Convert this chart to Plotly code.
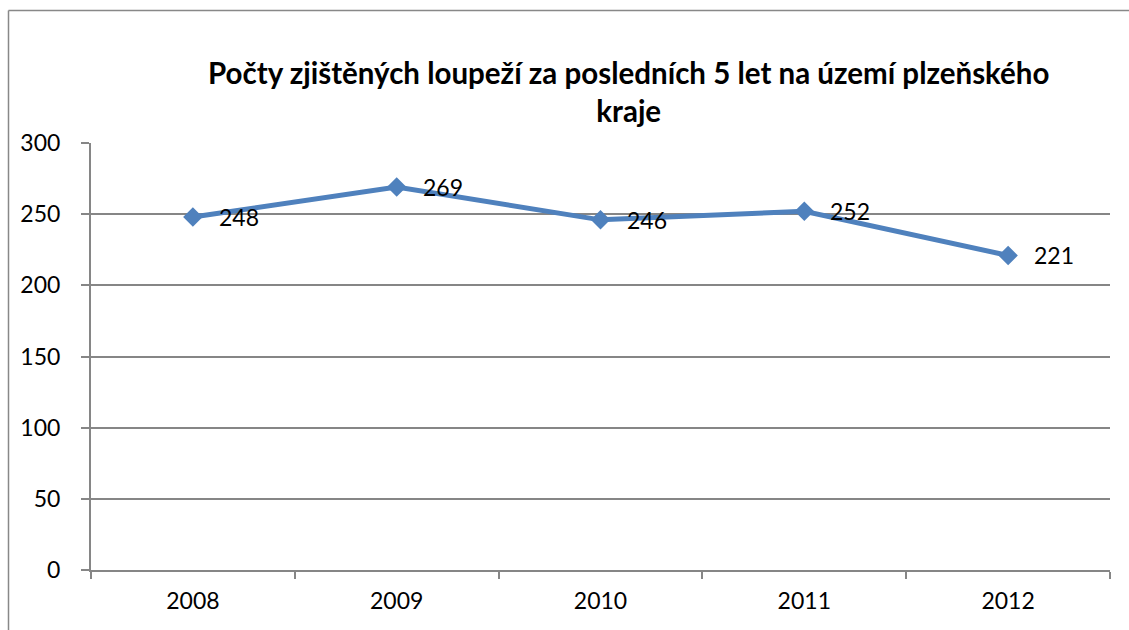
import plotly.graph_objects as go

years = ["2008", "2009", "2010", "2011", "2012"]
counts = [248, 269, 246, 252, 221]
y_ticks = [0, 50, 100, 150, 200, 250, 300]
title_text = "Počty zjištěných loupeží za posledních 5 let na území plzeňského<br>kraje"

W, H = 1129, 630
L, R, T, B = 91, 1110, 143, 570
pw, ph = R - L, B - T

def px(x):
    return (x - L) / pw

def py(y):
    return (B - y) / ph

FONT = "Lato"

fig = go.Figure()
fig.add_trace(go.Scatter(
    x=years, y=counts,
    mode="lines+markers",
    line=dict(color="#4F81BD", width=5),
    marker=dict(symbol="diamond", size=15, color="#4F81BD"),
    cliponaxis=False,
    showlegend=False,
))

annotations = [dict(
    x=i, y=v, xref="x", yref="y",
    text=str(v), showarrow=False,
    xanchor="left", yanchor="middle", xshift=24,
    font=dict(family=FONT, size=23, color="#000000"),
) for i, v in enumerate(counts)]

annotations.append(dict(
    text="<b>" + title_text + "</b>",
    xref="paper", yref="paper",
    x=px(628), y=py(91.5),
    xanchor="center", yanchor="middle",
    showarrow=False,
    font=dict(family=FONT, size=29.5, color="#000000"),
    align="center",
))

fig.update_layout(
    width=W, height=H,
    margin=dict(l=L, r=W - R, t=T, b=H - B),
    paper_bgcolor="white",
    plot_bgcolor="white",
    font=dict(family=FONT, color="#000000"),
    showlegend=False,
    xaxis=dict(
        type="category",
        showgrid=False,
        showline=True, linecolor="#868686", linewidth=2,
        ticks="outside", tickson="boundaries", ticklen=7, tickcolor="#868686", tickwidth=2,
        tickfont=dict(family=FONT, size=23, color="#000000"),
        ticklabelstandoff=9,
        range=[-0.5, 4.5],
    ),
    yaxis=dict(
        range=[0, 300],
        tickvals=y_ticks,
        showgrid=True, gridcolor="#868686", gridwidth=1.5,
        showline=True, linecolor="#868686", linewidth=2,
        ticks="outside", ticklen=8, tickcolor="#868686", tickwidth=2,
        tickfont=dict(family=FONT, size=23, color="#000000"),
        ticklabelstandoff=16,
        zeroline=False,
    ),
    annotations=annotations,
    shapes=[
        dict(type="line", xref="paper", yref="paper",
             x0=px(8.5), x1=px(8.5), y0=py(630), y1=py(10.5),
             line=dict(color="#888888", width=1.5)),
        dict(type="line", xref="paper", yref="paper",
             x0=px(8.5), x1=px(1129), y0=py(10.5), y1=py(10.5),
             line=dict(color="#888888", width=1.5)),
    ],
)

fig.write_html("out.html", config={"displayModeBar": False})
